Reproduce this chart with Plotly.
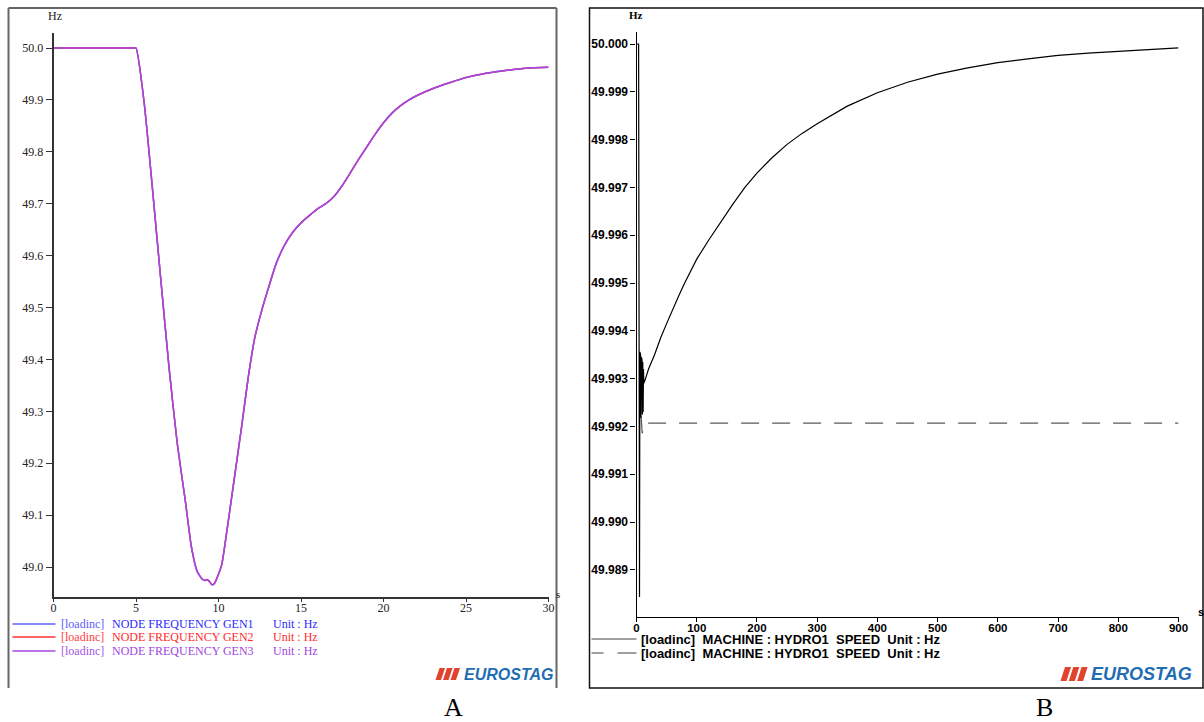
import plotly.graph_objects as go

W, H = 1204, 722
FIG_W = 1217  # rendered page is compressed horizontally by ~1%; compensate
X_SHIFT = 2.5  # rendered page is shifted right by a few pixels; compensate


def px(x):
    return (x - X_SHIFT) / W


def py(y):
    return 1 - y / H


# ---------------- Panel A data (NODE FREQUENCY, Hz vs s) ----------------
t_a = [0, 4.8, 5.0, 5.5, 6.0, 6.5, 7.0, 7.5, 8.0, 8.35, 8.7, 9.0, 9.2, 9.3, 9.45, 9.6,
       9.75, 9.95, 10.2, 10.6, 11.0, 11.4, 11.8, 12.2, 12.6, 13.0, 13.5, 14.0,
       14.5, 15.0, 15.5, 16.0, 16.5, 17.0, 17.5, 18.0, 18.5, 19.0, 19.5, 20.0,
       20.5, 21.0, 21.5, 22.0, 23.0, 24.0, 25.0, 26.0, 27.0, 28.0, 29.0, 30.0]
f_gen3 = [50.000, 50.000, 50.000, 49.893, 49.728, 49.555, 49.385, 49.238, 49.125, 49.040,
          48.992, 48.977, 48.974, 48.976, 48.972, 48.966, 48.968, 48.982, 49.005,
          49.090, 49.180, 49.270, 49.365, 49.442, 49.492, 49.535, 49.585, 49.620,
          49.645, 49.663, 49.677, 49.690, 49.700, 49.714, 49.735, 49.760, 49.786,
          49.810, 49.834, 49.856, 49.874, 49.888, 49.899, 49.908, 49.922, 49.933,
          49.943, 49.950, 49.955, 49.959, 49.962, 49.963]
f_gen1 = list(f_gen3)
f_gen2 = list(f_gen3)

a_xticks = [0, 5, 10, 15, 20, 25, 30]
a_yticks = [49.0, 49.1, 49.2, 49.3, 49.4, 49.5, 49.6, 49.7, 49.8, 49.9, 50.0]
a_ytext = ["49.0", "49.1", "49.2", "49.3", "49.4", "49.5", "49.6", "49.7",
           "49.8", "49.9", "50.0"]

# ---------------- Panel B data (MACHINE HYDRO1 SPEED, Hz vs s) ----------------
t_b_solid = [0, 3.5, 5.0, 5.6, 6.2, 6.8, 7.4, 8.0, 8.6, 9.2, 9.8, 10.4, 11.0,
             11.6, 12.2, 15, 20, 30, 40, 50, 60, 70, 80, 90, 100, 120, 140, 160,
             180, 200, 225, 250, 275, 300, 350, 400, 450, 500, 550, 600, 650,
             700, 750, 800, 850, 900]
f_b_solid = [50.00000, 50.00000, 49.98843, 49.99356, 49.99215, 49.99350,
             49.99218, 49.99345, 49.99220, 49.99340, 49.99225, 49.99335,
             49.99230, 49.99320, 49.99290, 49.99300, 49.99320, 49.99350,
             49.99385, 49.99415, 49.99445, 49.99473, 49.99500, 49.99525,
             49.99550, 49.99590, 49.99628, 49.99665, 49.99700, 49.99730,
             49.99762, 49.99790, 49.99813, 49.99833, 49.99870, 49.99898,
             49.99920, 49.99937, 49.99950, 49.99961, 49.99969, 49.99976,
             49.99981, 49.99985, 49.99989, 49.99992]

t_b_dash = [7.8, 8.6, 9.4, 10.2, 11.0, 11.8, 900]
f_b_dash = [49.99220, 49.99190, 49.99186, 49.99188, 49.99200, 49.99207, 49.99207]

b_xticks = [0, 100, 200, 300, 400, 500, 600, 700, 800, 900]
b_yticks = [49.989, 49.990, 49.991, 49.992, 49.993, 49.994, 49.995, 49.996,
            49.997, 49.998, 49.999, 50.000]
b_ytext = ["49.989", "49.990", "49.991", "49.992", "49.993", "49.994", "49.995",
           "49.996", "49.997", "49.998", "49.999", "50.000"]

PURPLE = "#a446e4"
BLUE_LINE = "#8a8aff"
RED = "#ff3030"
EURO_BLUE = "#1f6db3"
EURO_RED = "#e2432f"

fig = go.Figure()
spl = dict(shape="spline", smoothing=0.5)
fig.add_trace(go.Scatter(x=t_a, y=f_gen1, xaxis="x", yaxis="y", mode="lines",
                         line=dict(color=BLUE_LINE, width=1.6, **spl), hoverinfo="skip"))
fig.add_trace(go.Scatter(x=t_a, y=f_gen2, xaxis="x", yaxis="y", mode="lines",
                         line=dict(color=RED, width=1.4, **spl), hoverinfo="skip"))
fig.add_trace(go.Scatter(x=t_a, y=f_gen3, xaxis="x", yaxis="y", mode="lines",
                         line=dict(color=PURPLE, width=1.5, **spl), hoverinfo="skip"))
fig.add_trace(go.Scatter(x=t_b_dash, y=f_b_dash, xaxis="x2", yaxis="y2", mode="lines",
                         line=dict(color="#5a5a5a", width=1.2, dash="18px,13px"),
                         hoverinfo="skip"))
fig.add_trace(go.Scatter(x=t_b_solid, y=f_b_solid, xaxis="x2", yaxis="y2", mode="lines",
                         line=dict(color="#000000", width=1.2), hoverinfo="skip"))

serif = "Liberation Serif"
sans = "Liberation Sans"

axis_common = dict(showgrid=False, zeroline=False, showline=True, ticks="outside",
                   fixedrange=True)

fig.update_layout(
    width=FIG_W, height=H,
    margin=dict(l=0, r=0, t=0, b=0, pad=0),
    paper_bgcolor="white", plot_bgcolor="white",
    showlegend=False,
    xaxis=dict(domain=[px(53), px(548)], range=[0, 30], anchor="y",
               tickvals=a_xticks, ticklen=3, tickcolor="#333", linecolor="#333",
               linewidth=1.5, ticklabelstandoff=-4,
               tickfont=dict(family=serif, size=12, color="#222"),
               **axis_common),
    yaxis=dict(domain=[py(597), py(33)], range=[48.9422, 50.0289], anchor="x",
               tickvals=a_yticks, ticktext=a_ytext, ticklen=6, tickcolor="#333",
               linecolor="#333", linewidth=1.5,
               tickfont=dict(family=serif, size=12, color="#222"), **axis_common),
    xaxis2=dict(domain=[px(636), px(1178)], range=[0, 900], anchor="y2",
                tickvals=b_xticks, ticklen=4, tickcolor="#000", linecolor="#000",
                linewidth=1.2, ticklabelstandoff=-4,
                tickfont=dict(family=sans, size=11.5, color="#000", weight="bold"),
                **axis_common),
    yaxis2=dict(domain=[py(617), py(32)], range=[49.988013, 50.000251], anchor="x2",
                tickvals=b_yticks, ticktext=b_ytext, ticklen=5, tickcolor="#000",
                linecolor="#000", linewidth=1.2,
                tickfont=dict(family=sans, size=12, color="#000", weight="bold"),
                **axis_common),
)

shapes = []


def hline(x0, x1, y, color, width=1.0, dash="solid"):
    shapes.append(dict(type="line", xref="paper", yref="paper", x0=px(x0), x1=px(x1),
                       y0=py(y), y1=py(y), line=dict(color=color, width=width, dash=dash)))


def vline(x, y0, y1, color, width=1.0):
    shapes.append(dict(type="line", xref="paper", yref="paper", x0=px(x), x1=px(x),
                       y0=py(y0), y1=py(y1), line=dict(color=color, width=width)))


# Panel frames
vline(8, 8, 688, "#666", 2)
hline(8, 556, 8, "#666", 2)
vline(556, 8, 688, "#666", 2)
shapes.append(dict(type="rect", xref="paper", yref="paper", x0=px(589), x1=px(1202.5),
                   y0=py(688), y1=py(8), line=dict(color="#111", width=1.5)))

# Panel A legend sample lines
hline(12, 55, 624, BLUE_LINE, 2)
hline(12, 55, 637, RED, 1.3)
hline(12, 55, 651, PURPLE, 1.3)
# Panel B legend sample lines
hline(591, 636, 639, "#808080", 1.5)
hline(591, 603, 653, "#808080", 1.5)
hline(617, 636, 653, "#808080", 1.5)


def logo_bars(x_start, y_top, y_bot, bw, slant, step):
    for i in range(3):
        x0 = x_start + i * step
        path = "M {:.5f},{:.5f} L {:.5f},{:.5f} L {:.5f},{:.5f} L {:.5f},{:.5f} Z".format(
            px(x0), py(y_bot), px(x0 + bw), py(y_bot),
            px(x0 + bw + slant), py(y_top), px(x0 + slant), py(y_top))
        shapes.append(dict(type="path", xref="paper", yref="paper", path=path,
                           fillcolor=EURO_RED, line=dict(width=0)))


logo_bars(435, 668, 680, 5.5, 4, 7.5)
logo_bars(1060, 667, 681, 6, 4.5, 8.3)

fig.update_layout(shapes=shapes)

ann = []


def text(x, y, s, size, color, family, xanchor="left", yanchor="middle", bold=False,
         italic=False):
    if bold:
        s = "<b>" + s + "</b>"
    if italic:
        s = "<i>" + s + "</i>"
    ann.append(dict(xref="paper", yref="paper", x=px(x), y=py(y), text=s,
                    showarrow=False, xanchor=xanchor, yanchor=yanchor,
                    font=dict(size=size, color=color, family=family), borderpad=0))


# Axis unit labels
text(46, 16, "Hz", 12, "#222", serif)
text(554, 594, "s", 11, "#222", serif)
text(627, 15, "Hz", 11, "#000", serif, bold=True)
text(1196, 612, "s", 11, "#000", sans, bold=True)

# Panel A legend text
rows = [(624, "#5a5aff", "#2a2aff", "GEN1"),
        (637, "#ff4040", "#ff2a2a", "GEN2"),
        (651, "#a455e6", "#a044e2", "GEN3")]
for y, c1, c2, g in rows:
    text(59, y, "[loadinc]", 12, c1, serif)
    text(110, y, "NODE FREQUENCY " + g, 12, c2, serif)
    text(271, y, "Unit : Hz", 12, c2, serif)

# Panel B legend text
NB = "\u00a0"
legend_b = "[loadinc]" + NB * 2 + "MACHINE : HYDRO1" + NB * 2 + "SPEED" + NB * 2 + "Unit : Hz"
for y in (639, 653):
    text(639, y, legend_b, 13, "#000", sans, bold=True)

# EUROSTAG logos
text(462, 674, "EUROSTAG", 16, EURO_BLUE, sans, bold=True, italic=True)
text(1089, 674, "EUROSTAG", 18, EURO_BLUE, sans, bold=True, italic=True)

# Panel captions
text(453, 707, "A", 26, "#000", serif, xanchor="center")
text(1044, 707, "B", 26, "#000", serif, xanchor="center")

fig.update_layout(annotations=ann)

fig.write_html(
    "out.html",
    config={"displayModeBar": False},
    post_script=(
        "document.documentElement.style.margin='0px';"
        "document.documentElement.style.padding='0px';"
        "document.documentElement.style.overflow='hidden';"
        "document.body.style.margin='0px';"
        "document.body.style.padding='0px';"
        "document.body.style.overflow='hidden';"
        "var gd=document.getElementById('{plot_id}');"
        "gd.style.position='absolute';gd.style.left='0px';gd.style.top='0px';"
    ),
)
